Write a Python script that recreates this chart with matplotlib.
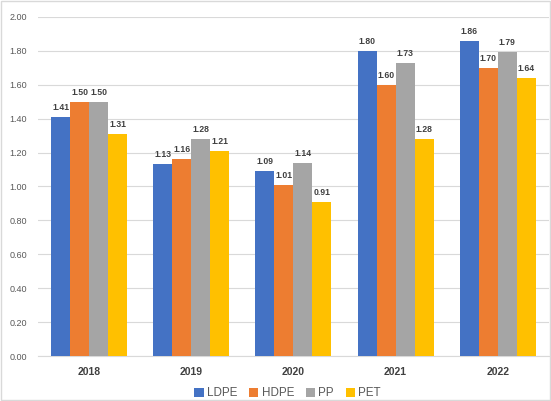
import matplotlib
matplotlib.use("Agg")
import matplotlib.pyplot as plt
from matplotlib.patches import Rectangle
import numpy as np

plt.rcParams["font.family"] = ["Liberation Sans", "DejaVu Sans"]

years = ["2018", "2019", "2020", "2021", "2022"]
series_names = ["LDPE", "HDPE", "PP", "PET"]
ldpe = [1.41, 1.13, 1.09, 1.80, 1.86]
hdpe = [1.50, 1.16, 1.01, 1.60, 1.70]
pp = [1.50, 1.28, 1.14, 1.73, 1.79]
pet = [1.31, 1.21, 0.91, 1.28, 1.64]
y_ticks = [0.0, 0.2, 0.4, 0.6, 0.8, 1.0, 1.2, 1.4, 1.6, 1.8, 2.0]

colors = ["#4472C4", "#ED7D31", "#A5A5A5", "#FFC000"]
series = [ldpe, hdpe, pp, pet]

fig = plt.figure(figsize=(5.51, 4.01), dpi=100)
ax = fig.add_axes([0.069, 0.112, 0.927, 0.846])

# figure border
fig.patches.append(Rectangle((0.002, 0.002), 0.996, 0.996, transform=fig.transFigure,
                             fill=False, edgecolor="#D9D9D9", linewidth=1))

x = np.arange(len(years))
bw = 0.186
for i, (vals, c, name) in enumerate(zip(series, colors, series_names)):
    pos = x + (i - 1.5) * bw
    bars = ax.bar(pos, vals, width=bw, color=c, label=name, zorder=3)
    for b, v in zip(bars, vals):
        ax.text(b.get_x() + b.get_width() / 2, v + 0.03, f"{v:.2f}",
                ha="center", va="bottom", fontsize=6.2, fontweight="bold",
                color="#404040", zorder=4)

ax.set_xlim(-0.5, len(years) - 0.5)
ax.set_ylim(0, 2.0)
ax.set_yticks(y_ticks)
ax.set_yticklabels([f"{t:.2f}" for t in y_ticks], fontsize=6.5, color="#595959")
ax.set_xticks(x)
ax.set_xticklabels(years, fontsize=7.5, fontweight="bold", color="#404040")
ax.tick_params(axis="both", length=0)
ax.tick_params(axis="x", pad=8)
ax.tick_params(axis="y", pad=8)
ax.grid(axis="y", color="#D9D9D9", linewidth=0.8, zorder=0)
for s in ["top", "right", "left"]:
    ax.spines[s].set_visible(False)
ax.spines["bottom"].set_color("#D9D9D9")

leg = fig.legend(loc="lower center", bbox_to_anchor=(0.522, -0.022), ncol=4, frameon=False,
                 fontsize=8.4, handlelength=0.78, handleheight=0.78, handletextpad=0.3,
                 columnspacing=1.0)
for t in leg.get_texts():
    t.set_color("#595959")

fig.savefig("out.png", dpi=100)
